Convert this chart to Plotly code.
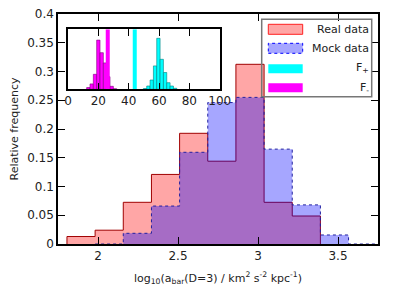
import plotly.graph_objects as go

# ---------------- data ----------------
real_edges = [1.806, 1.982, 2.158, 2.334, 2.510, 2.686, 2.862, 3.038, 3.214, 3.390]
real_freq = [0.013, 0.024, 0.0725, 0.121, 0.1925, 0.144, 0.3125, 0.0725, 0.0487]

mock_edges = [1.982, 2.158, 2.334, 2.510, 2.686, 2.862, 3.038, 3.214, 3.390, 3.566, 3.742]
mock_freq = [0.0, 0.0186, 0.066, 0.1595, 0.246, 0.255, 0.165, 0.068, 0.0157, 0.0]

fminus_edges = [12.3, 14.5, 16.7, 18.9, 21.1, 23.3, 25.5, 27.7, 29.9, 32.1]
fminus_hist = [0.03, 0.09, 0.25, 0.82, 0.61, 0.44, 0.21, 0.05, 0.01]
fplus_edges = [49.7, 51.9, 54.1, 56.3, 58.5, 60.7, 62.9, 65.1, 67.3, 69.5, 71.7]
fplus_hist = [0.012, 0.055, 0.155, 0.39, 0.85, 0.5, 0.28, 0.11, 0.055, 0.017]
fminus_value = 26.2
fplus_value = 44.0

x_ticks = [2, 2.5, 3, 3.5]
y_ticks = [0, 0.05, 0.1, 0.15, 0.2, 0.25, 0.3, 0.35, 0.4]
y_ticklabels = ["0", "0.05", "0.1", "0.15", "0.2", "0.25", "0.3", "0.35", "0.4"]
inset_ticks = [0, 20, 40, 60, 80, 100]

legend_labels = ["Real data", "Mock data", "F<sub>+</sub>", "F<sub>-</sub>"]

# ---------------- layout geometry ----------------
PAGE = 8                      # default body margin of the html page
W, H = 399 - 2 * PAGE, 299 - 2 * PAGE
SL, ST = 58, 14               # plot-area corner on screen
PW, PH = 320, 230
L, T = SL - PAGE, ST - PAGE
R, B = W - L - PW, H - T - PH
FONT = "DejaVu Sans"


def px(xp):
    return (xp - SL) / PW


def py(yp):
    return (ST + PH - yp) / PH


def step_xy(edges, vals):
    xs = [edges[0]] + list(edges)
    ys = [0] + list(vals) + [0]
    return xs, ys


fig = go.Figure()

rx, ry = step_xy(real_edges, real_freq)
fig.add_trace(go.Scatter(x=rx, y=ry, mode="lines", line=dict(shape="hv", color="#a00000", width=1),
                         fill="tozeroy", fillcolor="rgba(255,0,0,0.35)", showlegend=False))
mx, my = step_xy(mock_edges, mock_freq)
fig.add_trace(go.Scatter(x=mx, y=my, mode="lines", line=dict(shape="hv", color="#2020a0", width=1, dash="dot"),
                         fill="tozeroy", fillcolor="rgba(0,0,255,0.35)", showlegend=False))

# inset histograms
fm_c = [(a + b) / 2 for a, b in zip(fminus_edges[:-1], fminus_edges[1:])]
fm_w = [b - a for a, b in zip(fminus_edges[:-1], fminus_edges[1:])]
fp_c = [(a + b) / 2 for a, b in zip(fplus_edges[:-1], fplus_edges[1:])]
fp_w = [b - a for a, b in zip(fplus_edges[:-1], fplus_edges[1:])]
fig.add_trace(go.Bar(x=fm_c, y=fminus_hist, width=fm_w, marker=dict(color="#ff00ff", line=dict(color="#800080", width=0.6)),
                     xaxis="x2", yaxis="y2", showlegend=False))
fig.add_trace(go.Bar(x=fp_c, y=fplus_hist, width=fp_w, marker=dict(color="#00ffff", line=dict(color="#008080", width=0.6)),
                     xaxis="x2", yaxis="y2", showlegend=False))
fig.add_trace(go.Scatter(x=[fminus_value, fminus_value], y=[0, 1], mode="lines", line=dict(color="#ff00ff", width=4),
                         xaxis="x2", yaxis="y2", showlegend=False))
fig.add_trace(go.Scatter(x=[fplus_value, fplus_value], y=[0, 1], mode="lines", line=dict(color="#00ffff", width=4),
                         xaxis="x2", yaxis="y2", showlegend=False))

shapes = []
annotations = []
# legend box
shapes.append(dict(type="rect", xref="paper", yref="paper", x0=px(261.7), x1=px(371.7), y0=py(96.7), y1=py(19.3),
                   line=dict(color="#777777", width=1.5), fillcolor="rgba(0,0,0,0)", layer="above"))
sample_styles = [
    dict(fillcolor="rgba(255,0,0,0.35)", line=dict(color="#ff2020", width=1)),
    dict(fillcolor="rgba(0,0,255,0.35)", line=dict(color="#0000ff", width=1, dash="dot")),
    dict(fillcolor="#00ffff", line=dict(width=0)),
    dict(fillcolor="#ff00ff", line=dict(width=0)),
]
sample_y = [(24.3, 34.3), (43.3, 53.3), (64.3, 73.3), (83.3, 92.3)]
text_y = [29.3, 48.3, 68.3, 87.7]
for lab, st, (ya, yb), ty in zip(legend_labels, sample_styles, sample_y, text_y):
    shapes.append(dict(type="rect", xref="paper", yref="paper", x0=px(268.3), x1=px(302.7), y0=py(yb), y1=py(ya),
                       layer="above", **st))
    annotations.append(dict(xref="paper", yref="paper", x=px(370.5), y=py(ty), text=lab, showarrow=False,
                            xanchor="right", yanchor="middle", font=dict(family=FONT, size=11, color="#222")))

axis_common = dict(showline=True, linecolor="black", linewidth=1.5, mirror="ticks", ticks="inside",
                   ticklen=7, tickwidth=1.2, tickcolor="black", showgrid=False, zeroline=False,
                   automargin=False, ticklabeloverflow="allow",
                   tickfont=dict(family=FONT, size=12, color="#222"))

fig.update_layout(
    width=W, height=H,
    margin=dict(l=L, r=R, t=T, b=B),
    paper_bgcolor="white", plot_bgcolor="rgba(0,0,0,0)",
    barmode="overlay",
    shapes=shapes, annotations=annotations,
    xaxis=dict(range=[1.75, 3.75], tickvals=x_ticks, ticktext=[str(v) for v in x_ticks],
               title=dict(text="log<sub>10</sub>(a<sub>bar</sub>(D=3) / km<sup>2</sup> s<sup>-2</sup> kpc<sup>-1</sup>)",
                          font=dict(family=FONT, size=11, color="#222"), standoff=12),
               **axis_common),
    yaxis=dict(range=[0, 0.4], tickvals=y_ticks, ticktext=y_ticklabels,
               title=dict(text="Relative frequency", font=dict(family=FONT, size=11, color="#222"), standoff=10),
               **axis_common),
    xaxis2=dict(domain=[px(68), px(219.7)], anchor="y2", range=[0, 100], tickvals=inset_ticks,
                **axis_common),
    yaxis2=dict(domain=[py(89.3), py(29.3)], anchor="x2", range=[0, 1], showline=True, linecolor="black",
                linewidth=1.5, mirror=True, ticks="", showticklabels=False, showgrid=False, zeroline=False),
)

fig.write_html("out.html")
